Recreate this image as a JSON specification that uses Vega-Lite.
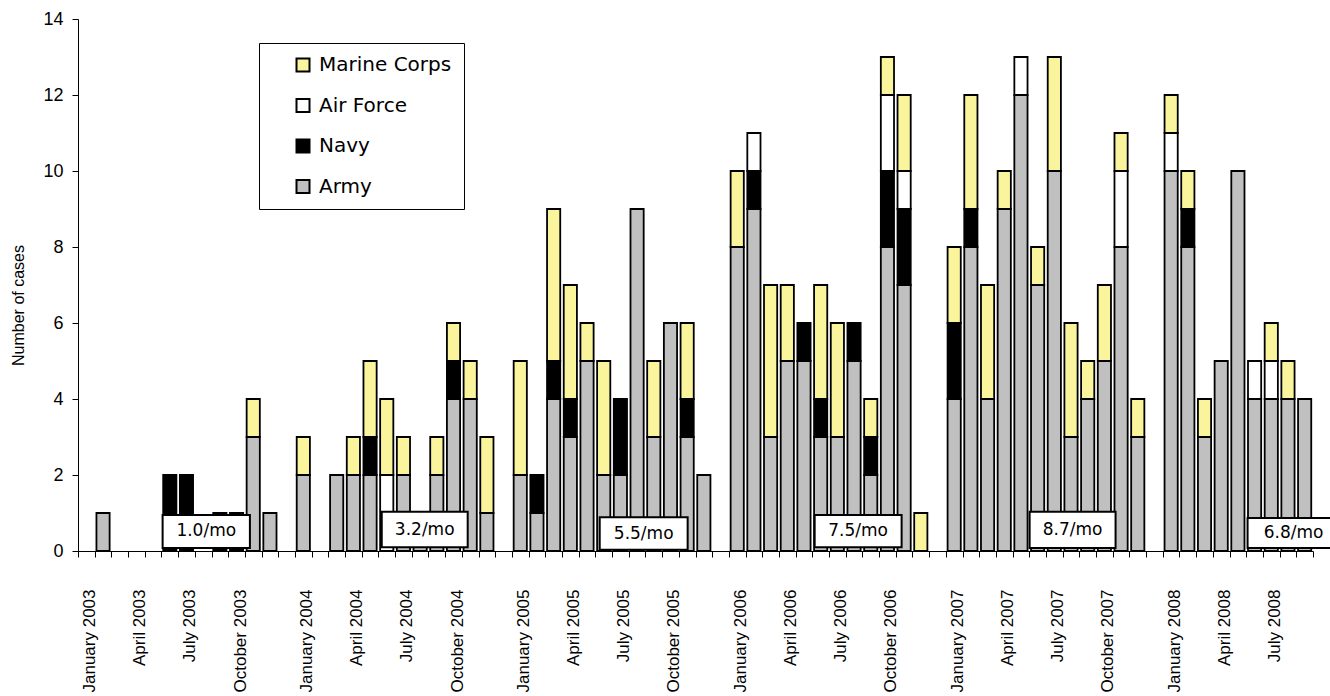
{
  "$schema": "https://vega.github.io/schema/vega-lite/v6.json",
  "width": 1235,
  "height": 532,
  "autosize": {"type": "none"},
  "padding": {"left": 78, "top": 19, "right": 17, "bottom": 145},
  "background": "white",
  "datasets": {
    "cases": [
      {"month": "February 2003", "branch": "Army", "n": 1},
      {"month": "June 2003", "branch": "Navy", "n": 2},
      {"month": "July 2003", "branch": "Navy", "n": 2},
      {"month": "September 2003", "branch": "Navy", "n": 1},
      {"month": "October 2003", "branch": "Navy", "n": 1},
      {"month": "November 2003", "branch": "Army", "n": 3},
      {"month": "November 2003", "branch": "Marine Corps", "n": 1},
      {"month": "December 2003", "branch": "Army", "n": 1},
      {"month": "January 2004", "branch": "Army", "n": 2},
      {"month": "January 2004", "branch": "Marine Corps", "n": 1},
      {"month": "March 2004", "branch": "Army", "n": 2},
      {"month": "April 2004", "branch": "Army", "n": 2},
      {"month": "April 2004", "branch": "Marine Corps", "n": 1},
      {"month": "May 2004", "branch": "Army", "n": 2},
      {"month": "May 2004", "branch": "Navy", "n": 1},
      {"month": "May 2004", "branch": "Marine Corps", "n": 2},
      {"month": "June 2004", "branch": "Air Force", "n": 2},
      {"month": "June 2004", "branch": "Marine Corps", "n": 2},
      {"month": "July 2004", "branch": "Army", "n": 2},
      {"month": "July 2004", "branch": "Marine Corps", "n": 1},
      {"month": "August 2004", "branch": "Army", "n": 1},
      {"month": "September 2004", "branch": "Army", "n": 2},
      {"month": "September 2004", "branch": "Marine Corps", "n": 1},
      {"month": "October 2004", "branch": "Army", "n": 4},
      {"month": "October 2004", "branch": "Navy", "n": 1},
      {"month": "October 2004", "branch": "Marine Corps", "n": 1},
      {"month": "November 2004", "branch": "Army", "n": 4},
      {"month": "November 2004", "branch": "Marine Corps", "n": 1},
      {"month": "December 2004", "branch": "Army", "n": 1},
      {"month": "December 2004", "branch": "Marine Corps", "n": 2},
      {"month": "January 2005", "branch": "Army", "n": 2},
      {"month": "January 2005", "branch": "Marine Corps", "n": 3},
      {"month": "February 2005", "branch": "Army", "n": 1},
      {"month": "February 2005", "branch": "Navy", "n": 1},
      {"month": "March 2005", "branch": "Army", "n": 4},
      {"month": "March 2005", "branch": "Navy", "n": 1},
      {"month": "March 2005", "branch": "Marine Corps", "n": 4},
      {"month": "April 2005", "branch": "Army", "n": 3},
      {"month": "April 2005", "branch": "Navy", "n": 1},
      {"month": "April 2005", "branch": "Marine Corps", "n": 3},
      {"month": "May 2005", "branch": "Army", "n": 5},
      {"month": "May 2005", "branch": "Marine Corps", "n": 1},
      {"month": "June 2005", "branch": "Army", "n": 2},
      {"month": "June 2005", "branch": "Marine Corps", "n": 3},
      {"month": "July 2005", "branch": "Army", "n": 2},
      {"month": "July 2005", "branch": "Navy", "n": 2},
      {"month": "August 2005", "branch": "Army", "n": 9},
      {"month": "September 2005", "branch": "Army", "n": 3},
      {"month": "September 2005", "branch": "Marine Corps", "n": 2},
      {"month": "October 2005", "branch": "Army", "n": 6},
      {"month": "November 2005", "branch": "Army", "n": 3},
      {"month": "November 2005", "branch": "Navy", "n": 1},
      {"month": "November 2005", "branch": "Marine Corps", "n": 2},
      {"month": "December 2005", "branch": "Army", "n": 2},
      {"month": "January 2006", "branch": "Army", "n": 8},
      {"month": "January 2006", "branch": "Marine Corps", "n": 2},
      {"month": "February 2006", "branch": "Army", "n": 9},
      {"month": "February 2006", "branch": "Navy", "n": 1},
      {"month": "February 2006", "branch": "Air Force", "n": 1},
      {"month": "March 2006", "branch": "Army", "n": 3},
      {"month": "March 2006", "branch": "Marine Corps", "n": 4},
      {"month": "April 2006", "branch": "Army", "n": 5},
      {"month": "April 2006", "branch": "Marine Corps", "n": 2},
      {"month": "May 2006", "branch": "Army", "n": 5},
      {"month": "May 2006", "branch": "Navy", "n": 1},
      {"month": "June 2006", "branch": "Army", "n": 3},
      {"month": "June 2006", "branch": "Navy", "n": 1},
      {"month": "June 2006", "branch": "Marine Corps", "n": 3},
      {"month": "July 2006", "branch": "Army", "n": 3},
      {"month": "July 2006", "branch": "Marine Corps", "n": 3},
      {"month": "August 2006", "branch": "Army", "n": 5},
      {"month": "August 2006", "branch": "Navy", "n": 1},
      {"month": "September 2006", "branch": "Army", "n": 2},
      {"month": "September 2006", "branch": "Navy", "n": 1},
      {"month": "September 2006", "branch": "Marine Corps", "n": 1},
      {"month": "October 2006", "branch": "Army", "n": 8},
      {"month": "October 2006", "branch": "Navy", "n": 2},
      {"month": "October 2006", "branch": "Air Force", "n": 2},
      {"month": "October 2006", "branch": "Marine Corps", "n": 1},
      {"month": "November 2006", "branch": "Army", "n": 7},
      {"month": "November 2006", "branch": "Navy", "n": 2},
      {"month": "November 2006", "branch": "Air Force", "n": 1},
      {"month": "November 2006", "branch": "Marine Corps", "n": 2},
      {"month": "December 2006", "branch": "Marine Corps", "n": 1},
      {"month": "January 2007", "branch": "Army", "n": 4},
      {"month": "January 2007", "branch": "Navy", "n": 2},
      {"month": "January 2007", "branch": "Marine Corps", "n": 2},
      {"month": "February 2007", "branch": "Army", "n": 8},
      {"month": "February 2007", "branch": "Navy", "n": 1},
      {"month": "February 2007", "branch": "Marine Corps", "n": 3},
      {"month": "March 2007", "branch": "Army", "n": 4},
      {"month": "March 2007", "branch": "Marine Corps", "n": 3},
      {"month": "April 2007", "branch": "Army", "n": 9},
      {"month": "April 2007", "branch": "Marine Corps", "n": 1},
      {"month": "May 2007", "branch": "Army", "n": 12},
      {"month": "May 2007", "branch": "Air Force", "n": 1},
      {"month": "June 2007", "branch": "Army", "n": 7},
      {"month": "June 2007", "branch": "Marine Corps", "n": 1},
      {"month": "July 2007", "branch": "Army", "n": 10},
      {"month": "July 2007", "branch": "Marine Corps", "n": 3},
      {"month": "August 2007", "branch": "Army", "n": 3},
      {"month": "August 2007", "branch": "Marine Corps", "n": 3},
      {"month": "September 2007", "branch": "Army", "n": 4},
      {"month": "September 2007", "branch": "Marine Corps", "n": 1},
      {"month": "October 2007", "branch": "Army", "n": 5},
      {"month": "October 2007", "branch": "Marine Corps", "n": 2},
      {"month": "November 2007", "branch": "Army", "n": 8},
      {"month": "November 2007", "branch": "Air Force", "n": 2},
      {"month": "November 2007", "branch": "Marine Corps", "n": 1},
      {"month": "December 2007", "branch": "Army", "n": 3},
      {"month": "December 2007", "branch": "Marine Corps", "n": 1},
      {"month": "January 2008", "branch": "Army", "n": 10},
      {"month": "January 2008", "branch": "Air Force", "n": 1},
      {"month": "January 2008", "branch": "Marine Corps", "n": 1},
      {"month": "February 2008", "branch": "Army", "n": 8},
      {"month": "February 2008", "branch": "Navy", "n": 1},
      {"month": "February 2008", "branch": "Marine Corps", "n": 1},
      {"month": "March 2008", "branch": "Army", "n": 3},
      {"month": "March 2008", "branch": "Marine Corps", "n": 1},
      {"month": "April 2008", "branch": "Army", "n": 5},
      {"month": "May 2008", "branch": "Army", "n": 10},
      {"month": "June 2008", "branch": "Army", "n": 4},
      {"month": "June 2008", "branch": "Air Force", "n": 1},
      {"month": "July 2008", "branch": "Army", "n": 4},
      {"month": "July 2008", "branch": "Air Force", "n": 1},
      {"month": "July 2008", "branch": "Marine Corps", "n": 1},
      {"month": "August 2008", "branch": "Army", "n": 4},
      {"month": "August 2008", "branch": "Marine Corps", "n": 1},
      {"month": "September 2008", "branch": "Army", "n": 4}
    ],
    "rates": [
      {"label": "1.0/mo", "x0": 5.07, "x1": 10.3, "y0": 0.08, "y1": 0.95},
      {"label": "3.2/mo", "x0": 18.2, "x1": 23.35, "y0": 0.1, "y1": 1.03},
      {"label": "5.5/mo", "x0": 31.26, "x1": 36.53, "y0": 0.03, "y1": 0.89},
      {"label": "7.5/mo", "x0": 44.14, "x1": 49.35, "y0": 0.1, "y1": 0.95},
      {"label": "8.7/mo", "x0": 57.02, "x1": 62.17, "y0": 0.08, "y1": 1.03},
      {"label": "6.8/mo", "x0": 70.08, "x1": 75.6, "y0": 0.08, "y1": 0.87}
    ]
  },
  "layer": [
    {
      "data": {"name": "cases"},
      "transform": [
        {"calculate": "indexof(['Army', 'Navy', 'Air Force', 'Marine Corps'], datum.branch)", "as": "rank"}
      ],
      "mark": {"type": "bar", "stroke": "black", "strokeWidth": 1.8},
      "encoding": {
        "x": {
          "field": "month",
          "type": "nominal",
          "sort": null,
          "scale": {
            "domain": [
              "January 2003", "February 2003", "March 2003", "April 2003", "May 2003", "June 2003", "July 2003", "August 2003", "September 2003", "October 2003", "November 2003", "December 2003", "gap 2003",
              "January 2004", "February 2004", "March 2004", "April 2004", "May 2004", "June 2004", "July 2004", "August 2004", "September 2004", "October 2004", "November 2004", "December 2004", "gap 2004",
              "January 2005", "February 2005", "March 2005", "April 2005", "May 2005", "June 2005", "July 2005", "August 2005", "September 2005", "October 2005", "November 2005", "December 2005", "gap 2005",
              "January 2006", "February 2006", "March 2006", "April 2006", "May 2006", "June 2006", "July 2006", "August 2006", "September 2006", "October 2006", "November 2006", "December 2006", "gap 2006",
              "January 2007", "February 2007", "March 2007", "April 2007", "May 2007", "June 2007", "July 2007", "August 2007", "September 2007", "October 2007", "November 2007", "December 2007", "gap 2007",
              "January 2008", "February 2008", "March 2008", "April 2008", "May 2008", "June 2008", "July 2008", "August 2008", "September 2008"
            ],
            "paddingInner": 0.21,
            "paddingOuter": 0.105
          },
          "axis": {
            "orient": "bottom",
            "title": null,
            "ticks": false,
            "tickSize": 0,
            "domain": false,
            "labelAngle": 270,
            "labelPadding": 38,
            "labelOffset": 4,
            "labelFont": "Liberation Sans",
            "labelFontSize": 17,
            "labelColor": "black",
            "labelOverlap": false,
            "labelBound": false,
            "labelExpr": "indexof(['January', 'April', 'July', 'October'], split(datum.value, ' ')[0]) >= 0 ? datum.value : ''"
          }
        },
        "y": {
          "field": "n",
          "type": "quantitative",
          "stack": "zero",
          "scale": {"domain": [0, 14], "nice": false},
          "axis": {
            "title": "Number of cases",
            "values": [0, 2, 4, 6, 8, 10, 12, 14],
            "grid": false,
            "domainColor": "black",
            "tickColor": "black",
            "tickSize": 6,
            "labelFont": "Liberation Sans",
            "labelFontSize": 18,
            "labelColor": "black",
            "labelPadding": 9,
            "titleFont": "Liberation Sans",
            "titleFontSize": 16,
            "titleFontWeight": "normal",
            "titleColor": "black",
            "titleAngle": 270,
            "titleAlign": "center",
            "titleBaseline": "middle",
            "titleX": -60,
            "titleY": 286
          }
        },
        "color": {
          "field": "branch",
          "type": "nominal",
          "scale": {
            "domain": ["Marine Corps", "Air Force", "Navy", "Army"],
            "range": ["#FAF49C", "#FFFFFF", "#000000", "#C0C0C0"]
          },
          "legend": {
            "orient": "none",
            "legendX": 181,
            "legendY": 24,
            "title": null,
            "symbolType": "square",
            "symbolSize": 169,
            "symbolStrokeColor": "black",
            "symbolStrokeWidth": 2,
            "symbolOpacity": 1,
            "symbolOffset": 22,
            "labelFont": "DejaVu Sans",
            "labelFontSize": 20,
            "labelColor": "black",
            "labelOffset": 6,
            "rowPadding": 18.5,
            "padding": 12,
            "strokeColor": "black",
            "fillColor": "white"
          }
        },
        "order": {"field": "rank", "type": "quantitative"}
      }
    },
    {
      "data": {"name": "rates"},
      "mark": {"type": "rect", "fill": "white", "stroke": "black", "strokeWidth": 2},
      "encoding": {
        "x": {
          "field": "x0",
          "type": "quantitative",
          "scale": {"domain": [0, 74], "nice": false, "zero": false},
          "axis": {
            "orient": "bottom",
            "title": null,
            "labels": false,
            "grid": false,
            "values": [0, 1, 2, 3, 4, 5, 6, 7, 8, 9, 10, 11, 12, 13, 14, 15, 16, 17, 18, 19, 20, 21, 22, 23, 24, 25, 26, 27, 28, 29, 30, 31, 32, 33, 34, 35, 36, 37, 38, 39, 40, 41, 42, 43, 44, 45, 46, 47, 48, 49, 50, 51, 52, 53, 54, 55, 56, 57, 58, 59, 60, 61, 62, 63, 64, 65, 66, 67, 68, 69, 70, 71, 72, 73, 74],
            "tickSize": 6,
            "tickColor": "black",
            "domainColor": "black"
          }
        },
        "x2": {"field": "x1"},
        "y": {"field": "y0", "type": "quantitative", "scale": {"domain": [0, 14], "nice": false}},
        "y2": {"field": "y1"}
      }
    },
    {
      "data": {"name": "rates"},
      "transform": [
        {"calculate": "(datum.x0 + datum.x1) / 2", "as": "xc"},
        {"calculate": "(datum.y0 + datum.y1) / 2", "as": "yc"}
      ],
      "mark": {"type": "text", "font": "DejaVu Sans", "fontSize": 17, "baseline": "middle", "align": "center", "color": "black"},
      "encoding": {
        "x": {"field": "xc", "type": "quantitative", "scale": {"domain": [0, 74], "nice": false, "zero": false}, "axis": null},
        "y": {"field": "yc", "type": "quantitative", "scale": {"domain": [0, 14], "nice": false}},
        "text": {"field": "label"}
      }
    }
  ],
  "resolve": {"scale": {"x": "independent"}, "axis": {"x": "independent"}},
  "config": {
    "view": {"stroke": null},
    "font": "Liberation Sans"
  }
}
